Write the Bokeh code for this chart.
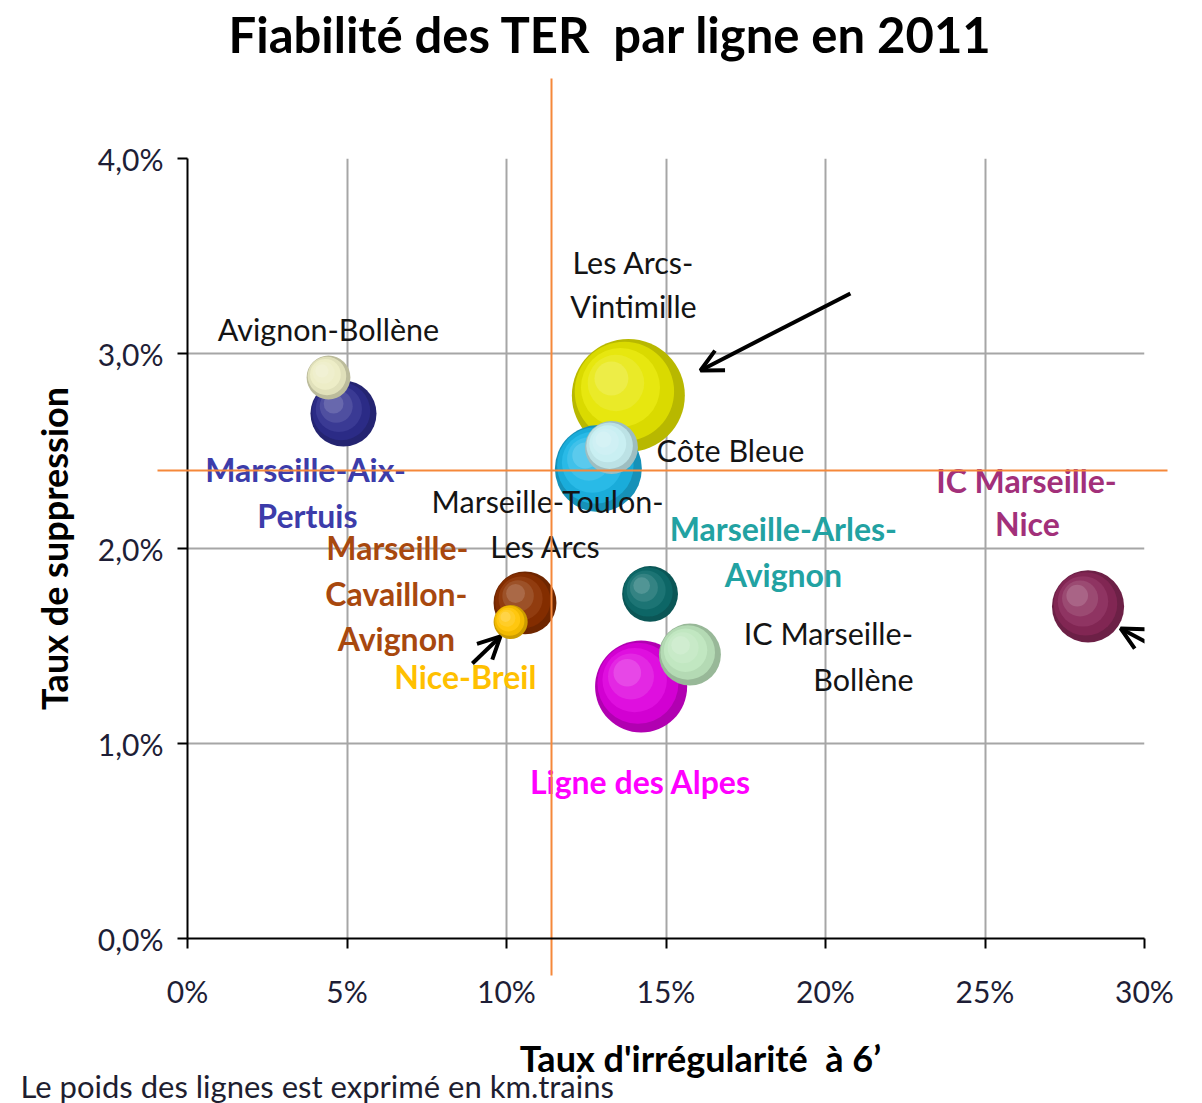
import math
from bokeh.plotting import figure
from bokeh.models import (Range1d, FixedTicker, CustomJSTickFormatter, ColumnDataSource,
                          Arrow, OpenHead, LinearAxis, Title)
from bokeh.core.properties import value
from bokeh.embed import file_html
from bokeh.resources import INLINE

# ---------------- data ----------------
# lines, in drawing order (back to front)
lignes = ["Les Arcs-Vintimille", "Marseille-Toulon-Les Arcs", "Côte Bleue",
          "Marseille-Aix-Pertuis", "Avignon-Bollène", "Marseille-Cavaillon-Avignon",
          "Nice-Breil", "Marseille-Arles-Avignon", "Ligne des Alpes",
          "IC Marseille-Bollène", "IC Marseille-Nice"]
irregularite = [13.82, 12.88, 13.29, 4.89, 4.42, 10.58, 10.13, 14.50, 14.22, 15.75, 28.23]   # %
suppression = [2.785, 2.41, 2.518, 2.692, 2.877, 1.721, 1.623, 1.767, 1.292, 1.456, 1.703]   # %
poids = [31.9, 18.9, 7.0, 10.9, 4.8, 9.9, 2.9, 7.8, 21.2, 9.6, 13.0]   # relative km.trains
couleurs = ["#E6E600", "#1CB6E6", "#C6EEF2", "#2E2E8E", "#ECECC4", "#8A3000",
            "#FFC400", "#0E6C6C", "#DE00DE", "#BEE6BE", "#882858"]

seuil_irregularite = 11.4
seuil_suppression = 2.4

x_ticks = [0, 5, 10, 15, 20, 25, 30]
y_ticks = [0, 1, 2, 3, 4]

# labels
lab_norm_text = ["Avignon-Bollène", "Les Arcs-", "Vintimille", "Côte Bleue",
                 "Marseille-Toulon-", "Les Arcs", "IC Marseille-", "Bollène"]
lab_norm_x = [4.42, 13.98, 13.98, 17.02, 11.29, 11.22, 20.09, 21.19]
lab_norm_y = [3.128, 3.467, 3.246, 2.503, 2.246, 2.015, 1.569, 1.333]

lab_bold_text = ["Marseille-Aix-", "Pertuis", "Marseille-", "Cavaillon-", "Avignon",
                 "Nice-Breil", "Marseille-Arles-", "Avignon", "Ligne des Alpes",
                 "IC Marseille-", "Nice"]
lab_bold_x = [3.70, 3.76, 6.58, 6.55, 6.55, 8.71, 18.68, 18.68, 14.20, 26.30, 26.33]
lab_bold_y = [2.405, 2.169, 2.005, 1.769, 1.538, 1.344, 2.103, 1.867, 0.805, 2.349, 2.128]
lab_bold_color = ["#3C3CAA", "#3C3CAA", "#A8480E", "#A8480E", "#A8480E", "#FFC000",
                  "#22A2A2", "#22A2A2", "#FF00FF", "#A2307A", "#A2307A"]

# arrows (start -> end)
fl_x0 = [20.78, 31.82, 8.93]
fl_y0 = [3.308, 1.364, 1.410]
fl_x1 = [16.08, 29.25, 9.81]
fl_y1 = [2.913, 1.590, 1.549]

titre = "Fiabilité des TER\u00a0 par ligne en 2011"
titre_x = "Taux d'irrégularité\u00a0 à 6’"
note = "Le poids des lignes est exprimé en km.trains"

# ---------------- layout ----------------
FW, FH = 1202, 1103
BL, BT = 187, 158
PW, PH = 957, 780
px_x = PW / 30.0
px_y = PH / 4.0
ORANGE = "#F5883A"

p = figure(width=FW, height=FH, x_range=Range1d(0, 30), y_range=Range1d(0, 4),
           output_backend="svg", toolbar_location=None,
           min_border_left=BL, min_border_right=FW - BL - PW,
           min_border_top=BT, min_border_bottom=FH - BT - PH)
p.background_fill_color = "white"
p.border_fill_color = "white"
p.outline_line_color = None

main_x = p.xaxis[0]
main_y = p.yaxis[0]
xgrid = p.xgrid[0]
ygrid = p.ygrid[0]

# axes
for ax in (main_x, main_y):
    ax.axis_line_color = "black"
    ax.axis_line_width = 2
    ax.major_tick_line_color = "black"
    ax.major_tick_line_width = 2
    ax.major_tick_out = 10
    ax.major_tick_in = 0
    ax.minor_tick_out = 0
    ax.minor_tick_in = 0
    ax.major_label_text_font = "Lato"
    ax.major_label_text_font_size = "30px"
    ax.major_label_text_color = "#1E1E36"

main_x.ticker = FixedTicker(ticks=x_ticks)
main_y.ticker = FixedTicker(ticks=y_ticks)
main_x.formatter = CustomJSTickFormatter(code="return tick.toFixed(0) + '%';")
main_y.formatter = CustomJSTickFormatter(code="return tick.toFixed(1).replace('.', ',') + '%';")
main_x.major_label_standoff = 24
main_y.major_label_standoff = 14

main_y.axis_label = "Taux de suppression"
main_y.axis_label_text_font = "Lato"
main_y.axis_label_text_font_style = "bold"
main_y.axis_label_text_font_size = "36px"
main_y.axis_label_text_color = "black"
main_y.axis_label_standoff = 19

for g in (xgrid, ygrid):
    g.grid_line_color = "#A6A6A6"
    g.grid_line_width = 2

# threshold lines drawn as long single ticks of extra axes (so they overrun the frame)
seuil_v = LinearAxis(ticker=FixedTicker(ticks=[seuil_irregularite]),
                     axis_line_color=None, major_tick_line_color=ORANGE,
                     major_tick_line_width=2, major_tick_out=80, major_tick_in=PH + 37,
                     minor_tick_out=0, minor_tick_in=0, major_label_standoff=0,
                     formatter=CustomJSTickFormatter(code="return '';"),
                     major_label_text_font_size="1px")
p.add_layout(seuil_v, "above")
seuil_h = LinearAxis(ticker=FixedTicker(ticks=[seuil_suppression]),
                     axis_line_color=None, major_tick_line_color=ORANGE,
                     major_tick_line_width=2, major_tick_out=23, major_tick_in=PW + 30,
                     minor_tick_out=0, minor_tick_in=0, major_label_standoff=0,
                     formatter=CustomJSTickFormatter(code="return '';"),
                     major_label_text_font_size="1px")
p.add_layout(seuil_h, "right")

# title, lifted by a small invisible spacer
p.add_layout(Title(text="\u00a0", text_font="Lato", text_font_size="10px",
                   text_color="white", standoff=2), "above")
p.title = Title(text=titre, align="left", offset=41,
                text_font="Lato", text_font_style="bold", text_font_size="49px",
                text_color="black", standoff=0)

# x-axis title carried by a tick-less second axis (leading no-break spaces shift it right)
ax_lab = LinearAxis(ticker=FixedTicker(ticks=[]),
                    axis_line_color=None, major_tick_out=0, major_tick_in=0,
                    minor_tick_out=0, minor_tick_in=0, major_label_standoff=0,
                    axis_label="\u00a0" * 8 + titre_x,
                    axis_label_text_font="Lato", axis_label_text_font_style="bold",
                    axis_label_text_font_size="36px", axis_label_text_color="black",
                    axis_label_standoff=24)
p.add_layout(ax_lab, "below")

p.add_layout(Title(text=note, align="left",
                   offset=-167, text_font="Lato", text_font_style="normal",
                   text_font_size="31px", text_color="#1E1E30", standoff=-44), "below")

# ---------------- bubbles with 3D shading ----------------
def shade(hexcol, t):
    r = int(hexcol[1:3], 16); g = int(hexcol[3:5], 16); b = int(hexcol[5:7], 16)
    if t >= 0:
        r, g, b = [int(c + (255 - c) * t) for c in (r, g, b)]
    else:
        r, g, b = [int(c * (1 + t)) for c in (r, g, b)]
    return "#%02x%02x%02x" % (r, g, b)

layers = [(1.00, 0.00, -0.20), (0.88, 0.07, -0.05), (0.70, 0.14, 0.06),
          (0.50, 0.22, 0.16), (0.30, 0.30, 0.28)]
bx, by, bs, bc = [], [], [], []
for xi, yi, wi, ci in zip(irregularite, suppression, poids, couleurs):
    rad = 10.0 * math.sqrt(wi)
    for frac, off, t in layers:
        bx.append(xi - off * rad / px_x)
        by.append(yi + off * rad / px_y)
        bs.append(2 * rad * frac)
        bc.append(shade(ci, t))
src = ColumnDataSource(dict(x=bx, y=by, size=bs, color=bc))
p.scatter("x", "y", size="size", fill_color="color", line_color=None, source=src)

# ---------------- labels ----------------
p.text(x=lab_norm_x, y=lab_norm_y, text=lab_norm_text, text_color="#141414",
       text_font=value("Lato"), text_font_size="30.5px", text_align="center",
       text_baseline="middle")
p.text(x=lab_bold_x, y=lab_bold_y, text=lab_bold_text, text_color=lab_bold_color,
       text_font=value("Lato"), text_font_size="32px", text_font_style="bold",
       text_align="center", text_baseline="middle")

# ---------------- black arrows ----------------
for a, b, c, d in zip(fl_x0, fl_y0, fl_x1, fl_y1):
    p.add_layout(Arrow(end=OpenHead(size=22, line_width=4, line_color="black"),
                       x_start=a, y_start=b, x_end=c, y_end=d,
                       line_color="black", line_width=4))

open("out.html", "w").write(file_html(p, INLINE))
